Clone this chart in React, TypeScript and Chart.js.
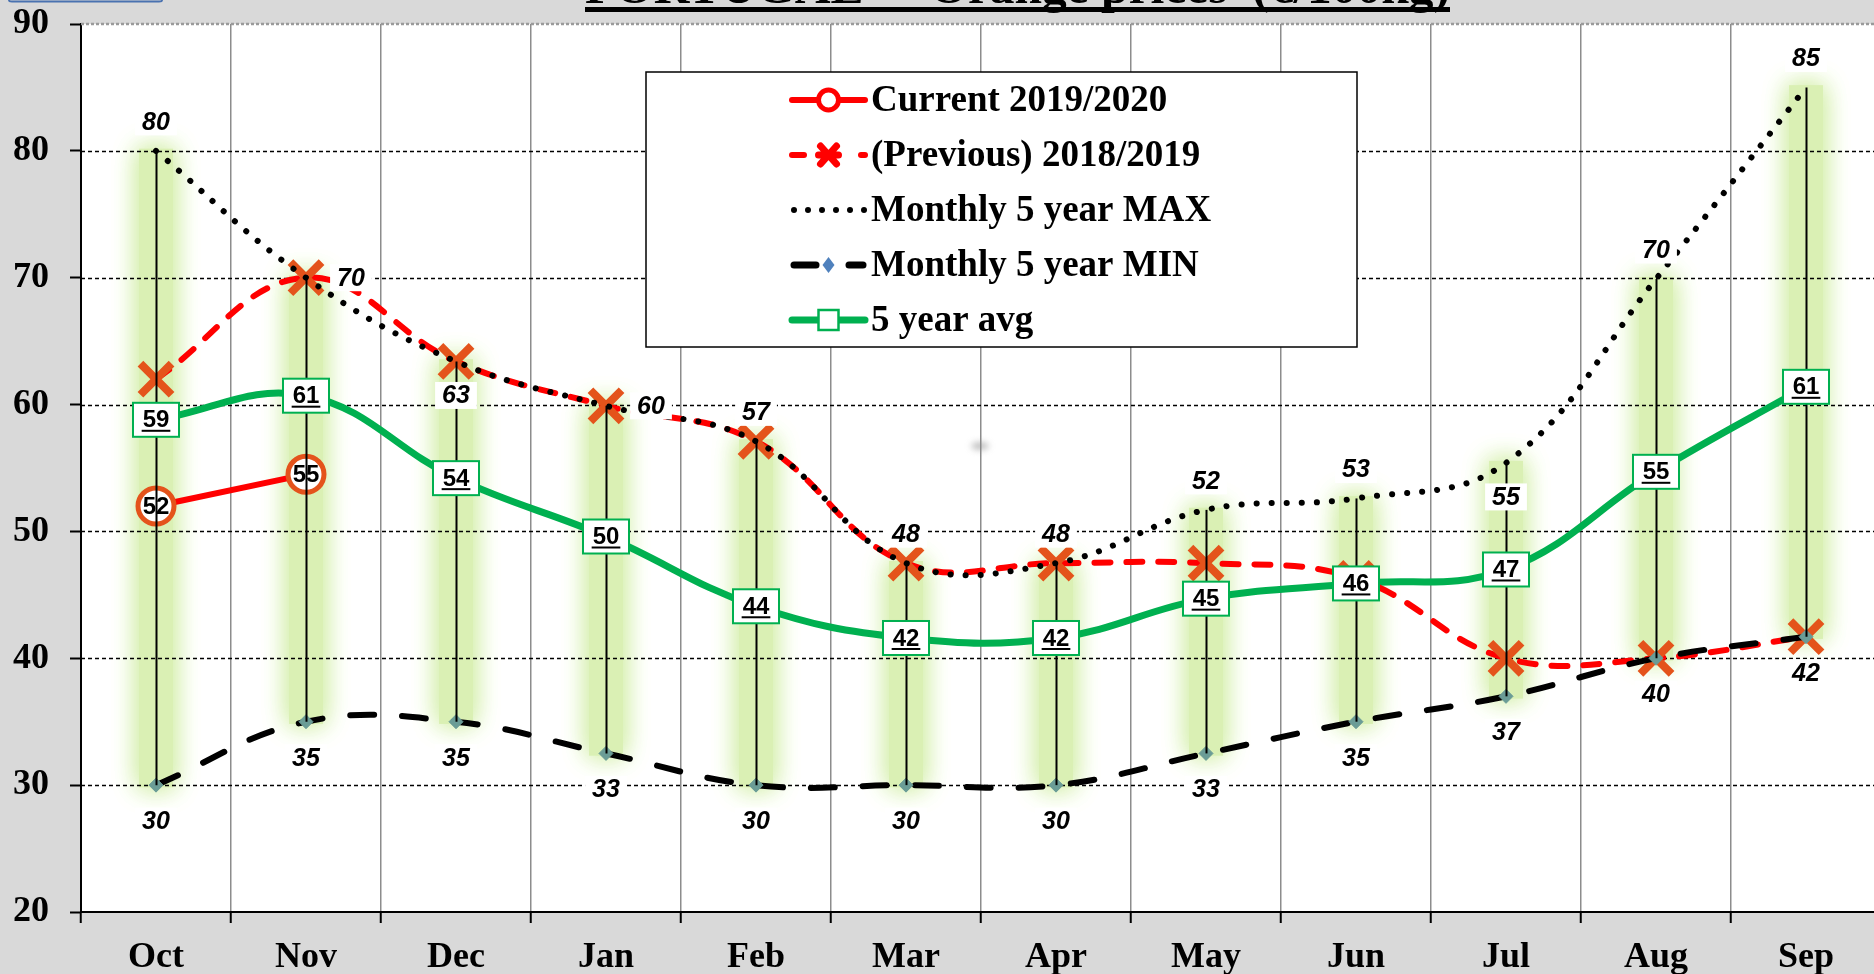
import React, { useEffect, useRef } from 'react';
import { Chart, registerables } from 'chart.js';

Chart.register(...registerables);

// ---------------- DATA ----------------
const months = ['Oct', 'Nov', 'Dec', 'Jan', 'Feb', 'Mar', 'Apr', 'May', 'Jun', 'Jul', 'Aug', 'Sep'];
const current2019 = [52, 54.5, null, null, null, null, null, null, null, null, null, null];
const previous2018 = [62, 70, 63.4, 59.9, 57.1, 47.5, 47.5, 47.5, 46.3, 40, 40, 41.7];
const max5y = [80, 70, 63.4, 59.9, 57.1, 47.5, 47.5, 51.7, 52.6, 55.4, 69.9, 85];
const min5y = [30, 35, 35, 32.5, 30, 30, 30, 32.5, 35, 37, 40, 41.7];
const avg5y = [58.8, 60.7, 54.2, 49.6, 44.1, 41.6, 41.6, 44.7, 45.9, 47, 54.7, 61.4];
const maxLabelPos = ['above', 'right', 'below', 'right', 'above', 'above', 'above', 'above', 'above', 'below', 'above', 'above'];
const yMin = 20;
const yMax = 90;
const yStep = 10;
const titleText = 'PORTUGAL  -  Orange prices  (€/100kg)';
const seriesNames = ['Current 2019/2020', '(Previous) 2018/2019', 'Monthly 5 year MAX', 'Monthly 5 year MIN', '5 year avg'];

// ---------------- STYLE / LAYOUT TARGETS ----------------
const SERIF = '"Liberation Serif", "Times New Roman", serif';
const SANS = '"Liberation Sans", Arial, sans-serif';
const GREEN = '#00b050';
const ORANGE = '#e4531b';
const CANVAS_W = 1920;
const CANVAS_H = 974;
const AREA_TOP = 24;
const AREA_RIGHT = 1881;

function drawWhiteLabel(ctx: CanvasRenderingContext2D, text: string, cx: number, cy: number) {
  ctx.font = `italic bold 25px ${SANS}`;
  const w = ctx.measureText(text).width + 14;
  const h = 27;
  ctx.fillStyle = '#fff';
  ctx.fillRect(cx - w / 2, cy - h / 2, w, h);
  ctx.fillStyle = '#000';
  ctx.textAlign = 'center';
  ctx.textBaseline = 'middle';
  ctx.fillText(text, cx, cy + 1);
}

function drawAvgBox(ctx: CanvasRenderingContext2D, text: string, cx: number, cy: number) {
  const w = 46, h = 34;
  ctx.fillStyle = '#fff';
  ctx.fillRect(cx - w / 2, cy - h / 2, w, h);
  ctx.strokeStyle = GREEN;
  ctx.lineWidth = 2;
  ctx.setLineDash([]);
  ctx.strokeRect(cx - w / 2, cy - h / 2, w, h);
  ctx.font = `bold 24px ${SANS}`;
  ctx.fillStyle = '#000';
  ctx.textAlign = 'center';
  ctx.textBaseline = 'middle';
  ctx.fillText(text, cx, cy + 1);
  const tw = ctx.measureText(text).width;
  ctx.fillRect(cx - tw / 2 - 1, cy + 10, tw + 2, 2);
}

function drawLegend(ctx: CanvasRenderingContext2D) {
  const x0 = 646, y0 = 72, x1 = 1357, y1 = 347;
  const sx0 = 792, sx1 = 865, tx = 871;
  const rows = [100, 155, 210, 265, 320];
  ctx.save();
  ctx.fillStyle = '#fff';
  ctx.fillRect(x0, y0, x1 - x0, y1 - y0);
  ctx.strokeStyle = '#000';
  ctx.lineWidth = 1.5;
  ctx.strokeRect(x0, y0, x1 - x0, y1 - y0);
  const cx = (sx0 + sx1) / 2;
  seriesNames.forEach((name, i) => {
    const y = rows[i];
    ctx.setLineDash([]);
    ctx.lineCap = 'round';
    if (i === 0) {
      ctx.strokeStyle = '#ff0000';
      ctx.lineWidth = 6;
      ctx.beginPath(); ctx.moveTo(sx0, y); ctx.lineTo(sx1, y); ctx.stroke();
      ctx.fillStyle = '#fff';
      ctx.beginPath(); ctx.arc(cx, y, 10, 0, Math.PI * 2); ctx.fill();
      ctx.lineWidth = 5; ctx.stroke();
    } else if (i === 1) {
      ctx.strokeStyle = '#ff0000';
      ctx.lineWidth = 6;
      ctx.beginPath(); ctx.moveTo(sx0, y); ctx.lineTo(sx0 + 12, y); ctx.stroke();
      ctx.beginPath(); ctx.moveTo(sx1 - 4, y); ctx.lineTo(sx1, y); ctx.stroke();
      ctx.lineWidth = 7;
      ctx.beginPath();
      ctx.moveTo(cx - 8, y - 9); ctx.lineTo(cx + 8, y + 9);
      ctx.moveTo(cx + 8, y - 9); ctx.lineTo(cx - 8, y + 9);
      ctx.moveTo(cx - 10, y); ctx.lineTo(cx + 10, y);
      ctx.stroke();
    } else if (i === 2) {
      ctx.fillStyle = '#000';
      for (let k = 0; k < 6; k++) {
        ctx.beginPath(); ctx.arc(sx0 + 2 + k * 14, y, 3, 0, Math.PI * 2); ctx.fill();
      }
    } else if (i === 3) {
      ctx.strokeStyle = '#000';
      ctx.lineWidth = 7;
      ctx.beginPath(); ctx.moveTo(sx0 + 2, y); ctx.lineTo(sx0 + 24, y); ctx.stroke();
      ctx.beginPath(); ctx.moveTo(sx1 - 16, y); ctx.lineTo(sx1 - 2, y); ctx.stroke();
      ctx.fillStyle = '#4f81bd';
      ctx.beginPath(); ctx.moveTo(cx, y - 8); ctx.lineTo(cx + 6, y); ctx.lineTo(cx, y + 8); ctx.lineTo(cx - 6, y); ctx.closePath(); ctx.fill();
    } else {
      ctx.strokeStyle = GREEN;
      ctx.lineWidth = 7;
      ctx.beginPath(); ctx.moveTo(sx0, y); ctx.lineTo(sx1, y); ctx.stroke();
      ctx.fillStyle = '#fff';
      ctx.fillRect(cx - 10, y - 10, 20, 20);
      ctx.lineWidth = 2.5;
      ctx.lineCap = 'butt';
      ctx.strokeRect(cx - 10, y - 10, 20, 20);
    }
    ctx.fillStyle = '#000';
    ctx.font = `bold 37px ${SERIF}`;
    ctx.textAlign = 'left';
    ctx.textBaseline = 'middle';
    ctx.fillText(name, tx, y + 1);
  });
  ctx.restore();
}

const customPlugin = {
  id: 'customDecor',
  beforeDraw(chart: any) {
    const { ctx, chartArea: a, width, height } = chart;
    ctx.save();
    ctx.fillStyle = '#d9d9d9';
    ctx.fillRect(0, 0, width, height);
    ctx.fillStyle = '#ffffff';
    ctx.fillRect(a.left, a.top, a.right - a.left, a.bottom - a.top);
    ctx.restore();
  },
  beforeDatasetsDraw(chart: any) {
    const { ctx, chartArea: a } = chart;
    const xs = chart.scales.x, ys = chart.scales.y;
    ctx.save();
    // glow bands behind each high-low range
    months.forEach((_, i) => {
      const px = xs.getPixelForValue(i);
      const top = ys.getPixelForValue(max5y[i]);
      const bot = ys.getPixelForValue(min5y[i]);
      ctx.save();
      ctx.shadowColor = 'rgba(212,239,170,1)';
      ctx.shadowBlur = 26;
      ctx.fillStyle = '#daf0b4';
      ctx.fillRect(px - 17, top - 2, 34, bot - top + 4);
      ctx.fillRect(px - 17, top - 2, 34, bot - top + 4);
      ctx.restore();
    });
    // horizontal dashed grid
    for (let v = yMin + yStep; v < yMax; v += yStep) {
      const py = Math.round(ys.getPixelForValue(v)) + 0.5;
      ctx.strokeStyle = '#000';
      ctx.lineWidth = 1.5;
      ctx.setLineDash([4, 3]);
      ctx.beginPath(); ctx.moveTo(a.left, py); ctx.lineTo(a.right, py); ctx.stroke();
    }
    const pTop = ys.getPixelForValue(yMax);
    ctx.strokeStyle = '#9a9a9a';
    ctx.lineWidth = 2.5;
    ctx.setLineDash([3, 2]);
    ctx.beginPath(); ctx.moveTo(a.left, pTop); ctx.lineTo(a.right, pTop); ctx.stroke();
    // small smudge
    ctx.setLineDash([]);
    ctx.filter = 'blur(3px)';
    ctx.fillStyle = 'rgba(140,140,140,0.55)';
    ctx.beginPath(); ctx.ellipse(980, 446, 9, 4, 0, 0, Math.PI * 2); ctx.fill();
    ctx.filter = 'none';
    ctx.restore();
  },
  afterDatasetsDraw(chart: any) {
    const { ctx } = chart;
    const xs = chart.scales.x, ys = chart.scales.y;
    ctx.save();
    // high-low lines
    ctx.strokeStyle = '#000';
    ctx.lineWidth = 2;
    ctx.setLineDash([]);
    months.forEach((_, i) => {
      const px = Math.round(xs.getPixelForValue(i)) + 0.5;
      ctx.beginPath();
      ctx.moveTo(px, ys.getPixelForValue(max5y[i]));
      ctx.lineTo(px, ys.getPixelForValue(min5y[i]));
      ctx.stroke();
    });
    // min labels
    const minMeta = chart.getDatasetMeta(3);
    minMeta.data.forEach((pt: any, i: number) => {
      drawWhiteLabel(ctx, String(Math.round(min5y[i])), pt.x, pt.y + 36);
    });
    // max labels
    const maxMeta = chart.getDatasetMeta(2);
    maxMeta.data.forEach((pt: any, i: number) => {
      const pos = maxLabelPos[i];
      let lx = pt.x, ly = pt.y;
      if (pos === 'above') ly -= 29;
      else if (pos === 'below') ly += 34;
      else if (pos === 'right') lx += 45;
      drawWhiteLabel(ctx, String(Math.round(max5y[i])), lx, ly);
    });
    // avg boxes
    const avgMeta = chart.getDatasetMeta(4);
    avgMeta.data.forEach((pt: any, i: number) => {
      drawAvgBox(ctx, String(Math.round(avg5y[i])), pt.x, pt.y);
    });
    // current labels
    const curMeta = chart.getDatasetMeta(0);
    curMeta.data.forEach((pt: any, i: number) => {
      const v = current2019[i];
      if (v == null) return;
      ctx.font = `bold 24px ${SANS}`;
      ctx.fillStyle = '#000';
      ctx.textAlign = 'center';
      ctx.textBaseline = 'middle';
      ctx.fillText(String(Math.round(v)), pt.x, pt.y + 1);
    });
    ctx.restore();
  },
  afterDraw(chart: any) {
    const { ctx } = chart;
    ctx.save();
    drawLegend(ctx);
    // title (mostly cut off at the top, as in the reference)
    const tx0 = 585, tx1 = 1450;
    ctx.font = `bold 46px ${SERIF}`;
    const w = ctx.measureText(titleText).width;
    ctx.save();
    ctx.translate(tx0, 3);
    ctx.scale((tx1 - tx0) / w, 1);
    ctx.fillStyle = '#000';
    ctx.textAlign = 'left';
    ctx.textBaseline = 'alphabetic';
    ctx.fillText(titleText, 0, 0);
    ctx.restore();
    ctx.fillStyle = '#000';
    ctx.fillRect(tx0, 7, tx1 - tx0, 5);
    // blue box edge top-left
    ctx.strokeStyle = '#4a72b0';
    ctx.lineWidth = 2;
    ctx.beginPath();
    ctx.moveTo(9, -5); ctx.lineTo(9, 0); ctx.quadraticCurveTo(9, 1.5, 12, 1.5);
    ctx.lineTo(159, 1.5); ctx.quadraticCurveTo(162, 1.5, 162, 0); ctx.lineTo(162, -5);
    ctx.stroke();
    ctx.restore();
  },
};

export default function App() {
  const ref = useRef<HTMLCanvasElement>(null);
  useEffect(() => {
    const canvas = ref.current;
    if (!canvas) return;
    const config: any = {
      type: 'line',
      data: {
        labels: months,
        datasets: [
          {
            label: seriesNames[0], data: current2019, borderColor: '#ff0000', borderWidth: 6,
            pointStyle: 'circle', pointRadius: 18, pointBorderWidth: 5, pointBorderColor: ORANGE,
            pointBackgroundColor: '#ffffff', tension: 0, order: 1,
          },
          {
            label: seriesNames[1], data: previous2018, borderColor: '#ff0000', borderWidth: 6,
            borderDash: [16, 16], borderCapStyle: 'round', pointStyle: 'crossRot', pointRadius: 22,
            pointBorderWidth: 8, pointBorderColor: ORANGE, pointBackgroundColor: ORANGE, tension: 0.4, order: 3,
          },
          {
            label: seriesNames[2], data: max5y, borderColor: '#000000', borderWidth: 6,
            borderDash: [0.1, 15], borderCapStyle: 'round', pointRadius: 0, tension: 0.4, order: 2,
          },
          {
            label: seriesNames[3], data: min5y, borderColor: '#000000', borderWidth: 6,
            borderDash: [24, 28], borderCapStyle: 'round', pointStyle: 'rectRot', pointRadius: 7,
            pointBackgroundColor: '#6a9c96', pointBorderColor: '#6a9c96', pointBorderWidth: 1, tension: 0.4, order: 0,
          },
          {
            label: seriesNames[4], data: avg5y, borderColor: GREEN, borderWidth: 7,
            pointRadius: 0, tension: 0.4, order: 4,
          },
        ],
      },
      options: {
        responsive: false,
        animation: false,
        devicePixelRatio: 1,
        layout: { autoPadding: false, padding: { left: 0, top: AREA_TOP, right: CANVAS_W - AREA_RIGHT, bottom: 0 } },
        plugins: { legend: { display: false }, title: { display: false }, tooltip: { enabled: false } },
        scales: {
          x: {
            offset: true,
            grid: { color: '#8c8c8c', lineWidth: 1.5, tickColor: '#000', tickLength: 11, tickWidth: 2, offset: true },
            border: { color: '#000', width: 2 },
            ticks: { font: { family: SERIF, weight: 'bold', size: 36 }, color: '#000', padding: 13, maxRotation: 0, autoSkip: false },
            afterFit: (s: any) => { s.height = 62; s.paddingLeft = 0; s.paddingRight = 0; },
          },
          y: {
            min: yMin, max: yMax,
            ticks: { stepSize: yStep, font: { family: SERIF, weight: 'bold', size: 36 }, color: '#000', padding: 21 },
            grid: { color: 'rgba(0,0,0,0)', tickColor: '#000', tickLength: 11, tickWidth: 2 },
            border: { color: '#000', width: 2 },
            afterFit: (s: any) => { s.width = 81; s.paddingTop = 0; s.paddingBottom = 0; },
          },
        },
      },
      plugins: [customPlugin],
    };
    const chart = new Chart(canvas, config);
    return () => chart.destroy();
  }, []);
  return (
    <div style={{ position: 'fixed', left: 0, top: 0, width: 1874, height: 974, overflow: 'hidden', background: '#d9d9d9' }}>
      <canvas ref={ref} width={CANVAS_W} height={CANVAS_H} style={{ display: 'block', width: CANVAS_W, height: CANVAS_H }} />
    </div>
  );
}
